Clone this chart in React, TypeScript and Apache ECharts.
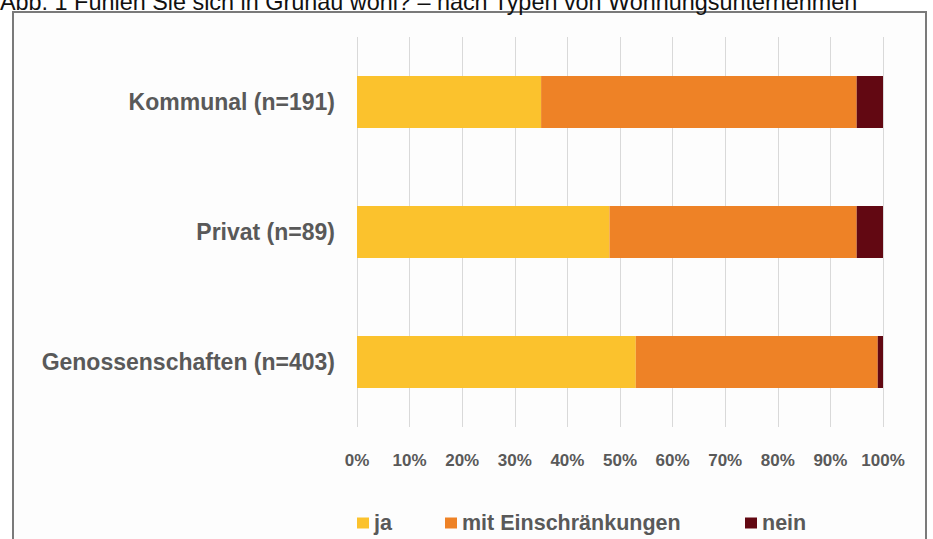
import React, { useEffect, useRef } from "react";
import * as echarts from "echarts";

const categories = ["Kommunal (n=191)", "Privat (n=89)", "Genossenschaften (n=403)"];
const jaValues = [35, 48, 53];
const mitValues = [60, 47, 46];
const neinValues = [5, 5, 1];
const seriesNames = ["ja", "mit Einschränkungen", "nein"];
const titleText = "Abb. 1 Fühlen Sie sich in Grünau wohl? – nach Typen von Wohnungsunternehmen";

export default function App() {
  const ref = useRef<HTMLDivElement>(null);
  useEffect(() => {
    if (!ref.current) return;
    const chart = echarts.init(ref.current, null, { renderer: "svg" });
    const labelColor = "#595959";
    const font = "'Liberation Sans', Arial, sans-serif";
    const legendLefts = [352, 440, 740];
    const legends = seriesNames.map((n, i) => ({
      data: [n],
      left: legendLefts[i],
      top: 507,
      itemWidth: 12,
      itemHeight: 11,
      icon: "rect",
      textStyle: {
        color: labelColor,
        fontWeight: "bold",
        fontSize: 21.5,
        fontFamily: font,
      },
    }));
    chart.setOption({
      animation: false,
      backgroundColor: "#ffffff",
      graphic: [
        {
          type: "rect",
          shape: { x: 13, y: 12, width: 913, height: 540 },
          style: { fill: "#fdfdfd", stroke: "#7a7a7a", lineWidth: 2 },
          z: -10,
        },
        {
          type: "text",
          x: 0,
          y: 13,
          style: {
            text: titleText,
            font: "23.4px 'Liberation Sans', Arial, sans-serif",
            fill: "#111111",
            verticalAlign: "bottom",
            align: "left",
          },
          z: -5,
        },
      ],
      grid: { left: 357, right: 50, top: 37, bottom: 112, containLabel: false },
      legend: legends,
      xAxis: {
        type: "value",
        min: 0,
        max: 100,
        interval: 10,
        axisLine: { show: false },
        axisTick: { show: false },
        splitLine: { lineStyle: { color: "#d9d9d9", width: 1 } },
        axisLabel: {
          formatter: "{value}%",
          color: labelColor,
          fontWeight: "bold",
          fontSize: 17,
          margin: 25,
          fontFamily: font,
        },
      },
      yAxis: {
        type: "category",
        data: categories,
        inverse: true,
        axisLine: { show: false },
        axisTick: { show: false },
        axisLabel: {
          color: labelColor,
          fontWeight: "bold",
          fontSize: 23,
          margin: 22,
          fontFamily: font,
        },
      },
      series: [
        { name: seriesNames[0], type: "bar", stack: "t", data: jaValues, barWidth: 52, itemStyle: { color: "#fbc22d" } },
        { name: seriesNames[1], type: "bar", stack: "t", data: mitValues, barWidth: 52, itemStyle: { color: "#ee8226" } },
        { name: seriesNames[2], type: "bar", stack: "t", data: neinValues, barWidth: 52, itemStyle: { color: "#620812" } },
      ],
    });
    return () => chart.dispose();
  }, []);
  return (
    <div style={{ position: "absolute", left: 0, top: 0, width: 933, height: 539, overflow: "hidden" }}>
      <div ref={ref} style={{ width: 933, height: 539 }} />
    </div>
  );
}
